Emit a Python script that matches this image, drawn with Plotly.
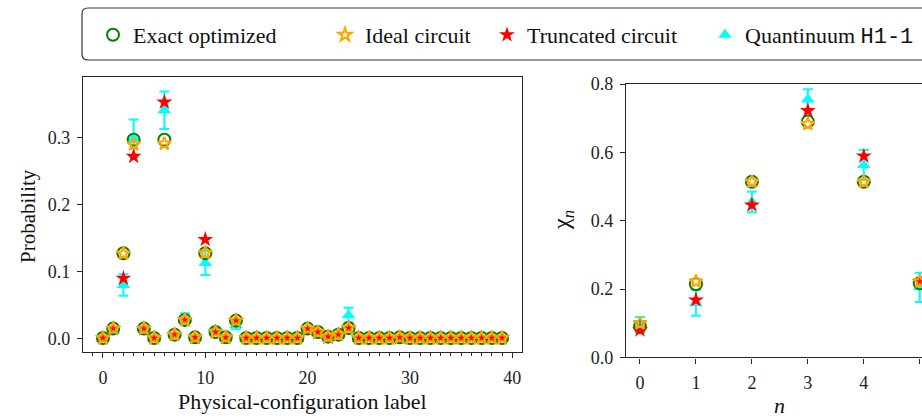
import plotly.graph_objects as go

# ---------------- data ----------------
labels = list(range(40))

exact_prob = [0.001, 0.015, 0.1275, 0.297, 0.015, 0.001, 0.297, 0.006, 0.028, 0.002,
              0.1275, 0.010, 0.002, 0.027, 0.001, 0.001, 0.001, 0.001, 0.001, 0.001,
              0.015, 0.010, 0.003, 0.006, 0.016, 0.001, 0.001, 0.001, 0.001, 0.002,
              0.001, 0.001, 0.001, 0.001, 0.001, 0.001, 0.001, 0.001, 0.001, 0.001]
ideal_prob = [0.001, 0.015, 0.127, 0.290, 0.015, 0.001, 0.291, 0.006, 0.028, 0.002,
              0.128, 0.010, 0.002, 0.027, 0.001, 0.001, 0.001, 0.001, 0.001, 0.001,
              0.015, 0.010, 0.003, 0.006, 0.016, 0.001, 0.001, 0.001, 0.001, 0.002,
              0.001, 0.001, 0.001, 0.001, 0.001, 0.001, 0.001, 0.001, 0.001, 0.001]
trunc_prob = [0.001, 0.015, 0.090, 0.272, 0.015, 0.001, 0.353, 0.006, 0.028, 0.002,
              0.148, 0.010, 0.002, 0.027, 0.001, 0.001, 0.001, 0.001, 0.001, 0.001,
              0.014, 0.009, 0.002, 0.006, 0.016, 0.001, 0.001, 0.001, 0.001, 0.002,
              0.001, 0.001, 0.001, 0.001, 0.001, 0.001, 0.001, 0.001, 0.001, 0.001]
quant_prob = [0.000, 0.012, 0.080, 0.299, 0.014, 0.000, 0.341, 0.005, 0.030, 0.000,
              0.113, 0.012, 0.000, 0.020, 0.000, 0.000, 0.000, 0.000, 0.000, 0.000,
              0.012, 0.008, 0.000, 0.004, 0.035, 0.000, 0.000, 0.000, 0.000, 0.000,
              0.000, 0.000, 0.000, 0.000, 0.000, 0.000, 0.000, 0.000, 0.000, 0.000]
quant_prob_err = [0.002, 0.004, 0.016, 0.028, 0.004, 0.002, 0.028, 0.003, 0.008, 0.002,
                  0.018, 0.004, 0.002, 0.006, 0.002, 0.002, 0.002, 0.002, 0.002, 0.002,
                  0.004, 0.003, 0.002, 0.003, 0.011, 0.002, 0.002, 0.002, 0.002, 0.002,
                  0.002, 0.002, 0.002, 0.002, 0.002, 0.002, 0.002, 0.002, 0.002, 0.002]

n_vals = [0, 1, 2, 3, 4, 5]
exact_chi = [0.090, 0.214, 0.514, 0.690, 0.514, 0.217]
ideal_chi = [0.100, 0.222, 0.514, 0.683, 0.514, 0.222]
trunc_chi = [0.080, 0.168, 0.446, 0.722, 0.589, 0.222]
quant_chi = [0.095, 0.160, 0.455, 0.755, 0.563, 0.205]
quant_chi_err = [0.023, 0.038, 0.030, 0.030, 0.044, 0.043]

MONO = "'Liberation Mono', 'DejaVu Sans Mono', monospace"
names = ["Exact optimized", "Ideal circuit", "Truncated circuit",
         f"Quantinuum <span style=\"font-family:{MONO}\">H1-1</span>"]

SERIF = "Liberation Serif, DejaVu Serif, Times New Roman, serif"
W, H = 922, 419

fig = go.Figure()

def add_panel(xv, ex, idl, tr, q, qe, xa, ya, show):
    # drawing order: cyan, green, red, orange
    fig.add_trace(go.Scatter(
        x=xv, y=q, mode="markers", name=names[3], legend="legend4", showlegend=show,
        marker=dict(symbol="triangle-up", size=12, color="cyan", line=dict(width=0)),
        error_y=dict(type="data", array=qe, color="cyan", thickness=2, width=5),
        xaxis=xa, yaxis=ya))
    fig.add_trace(go.Scatter(
        x=xv, y=ex, mode="markers", name=names[0], legend="legend", showlegend=show,
        marker=dict(symbol="circle-open", size=12, color="green", line=dict(width=2, color="green")),
        xaxis=xa, yaxis=ya))
    fig.add_trace(go.Scatter(
        x=xv, y=tr, mode="markers", name=names[2], legend="legend3", showlegend=show,
        marker=dict(symbol="star", size=12, color="red", line=dict(width=0)),
        xaxis=xa, yaxis=ya))
    fig.add_trace(go.Scatter(
        x=xv, y=idl, mode="markers", name=names[1], legend="legend2", showlegend=show,
        marker=dict(symbol="star-open", size=10, color="orange", line=dict(width=2, color="orange")),
        xaxis=xa, yaxis=ya))

add_panel(labels, exact_prob, ideal_prob, trunc_prob, quant_prob, quant_prob_err, "x", "y", True)
add_panel(n_vals, exact_chi, ideal_chi, trunc_chi, quant_chi, quant_chi_err, "x2", "y2", False)

axcol = "#262626"
tickfont = dict(family=SERIF, size=18, color="#222")
common = dict(showline=True, linecolor=axcol, linewidth=1.3, ticks="outside", ticklen=5,
              tickwidth=1.2, tickcolor=axcol, showgrid=False, zeroline=False,
              tickfont=tickfont, automargin=False)

def leg(cx):
    return dict(orientation="h", x=(cx - 20) / W, xanchor="left", y=1 - 35 / H, yanchor="middle",
                font=dict(family=SERIF, size=22, color="#111"), bgcolor="rgba(0,0,0,0)",
                borderwidth=0, itemwidth=30)

fig.update_layout(
    width=W, height=H, autosize=False,
    margin=dict(l=0, r=0, t=0, b=0, autoexpand=False),
    paper_bgcolor="white", plot_bgcolor="white",
    font=dict(family=SERIF),
    showlegend=True,
    legend=leg(113), legend2=leg(345), legend3=leg(507), legend4=leg(725),
    xaxis=dict(domain=[83 / W, 522 / W], range=[-1.95, 40.95], tickvals=[0, 10, 20, 30, 40],
               minor=dict(dtick=1, tick0=0, ticks="outside", ticklen=3, tickcolor=axcol),
               mirror=True, anchor="y", ticklabelstandoff=4, **common),
    yaxis=dict(domain=[1 - 352 / H, 1 - 77 / H], range=[-0.0199, 0.3906],
               tickvals=[0.0, 0.1, 0.2, 0.3], tickformat=".1f", mirror=True, anchor="x",
               ticklabelstandoff=3, **common),
    xaxis2=dict(domain=[626 / W, 1.0], range=[-0.25, 5.04], tickvals=[0, 1, 2, 3, 4, 5],
                mirror=True, anchor="y2", ticklabelstandoff=4, **common),
    yaxis2=dict(domain=[1 - 357.4 / H, 1 - 84 / H], range=[0, 0.8],
                tickvals=[0.0, 0.2, 0.4, 0.6, 0.8], tickformat=".1f", mirror=False, anchor="x2",
                ticklabelstandoff=3, **common),
)

# axis titles
fig.add_annotation(text="Physical-configuration label", xref="paper", yref="paper",
                   x=302 / W, y=1 - 401 / H, xanchor="center", yanchor="middle", showarrow=False,
                   font=dict(family=SERIF, size=22, color="#111"))
fig.add_annotation(text="<i>n</i>", xref="paper", yref="paper",
                   x=779 / W, y=1 - 405 / H, xanchor="center", yanchor="middle", showarrow=False,
                   font=dict(family=SERIF, size=22, color="#111"))
fig.add_annotation(text="Probability", xref="paper", yref="paper", textangle=-90,
                   x=28 / W, y=1 - 216 / H, xanchor="center", yanchor="middle", showarrow=False,
                   font=dict(family=SERIF, size=21, color="#111"))
fig.add_annotation(text="χ<sub><i>n</i></sub>", xref="paper", yref="paper", textangle=-90,
                   x=563 / W, y=1 - 220 / H, xanchor="center", yanchor="middle", showarrow=False,
                   font=dict(family=SERIF, size=24, color="#111"))

# legend frame (rounded box)
x0, x1 = 82 / W, 1.03
y0, y1 = 1 - 60 / H, 1 - 8 / H
rx, ry = 6 / W, 6 / H
path = (f"M {x0 + rx},{y1} L {x1},{y1} L {x1},{y0} L {x0 + rx},{y0} "
        f"Q {x0},{y0} {x0},{y0 + ry} L {x0},{y1 - ry} Q {x0},{y1} {x0 + rx},{y1} Z")
fig.add_shape(type="path", path=path, xref="paper", yref="paper",
              line=dict(color="#333", width=1.2), fillcolor="rgba(0,0,0,0)", layer="above")

fig.write_html("out.html")
